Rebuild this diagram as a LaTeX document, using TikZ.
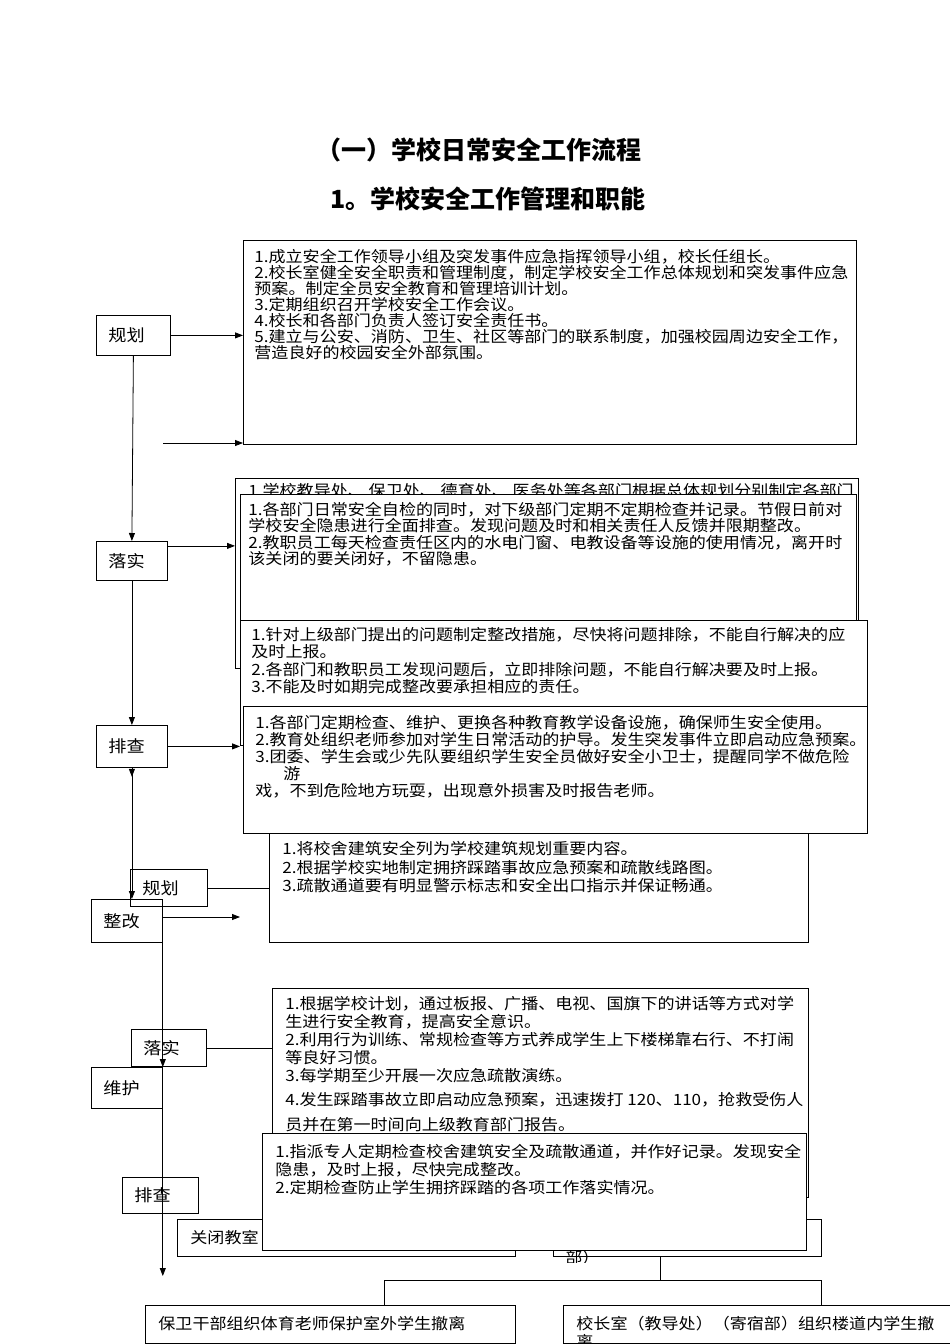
\documentclass[tikz,border=0pt]{standalone}
\usepackage{fontspec}
\newfontfamily\zh[FakeStretch=1.1]{Noto Sans CJK SC}
\newfontfamily\zhbf{Noto Sans CJK SC}
\usetikzlibrary{arrows.meta}

\begin{document}
\begin{tikzpicture}[x = 1pt, y = -1pt, line width = 0.8pt,
  box/.style = {draw, fill = white, anchor = north west, inner sep = 0pt},
  txt/.style = {anchor = north west, inner sep = 0pt, align = left, font = {\zh\fontsize{15.5}{#1}\selectfont}},
  lab/.style = {draw, anchor = north west, inner xsep = 12pt, inner ysep = 0pt, text width = #1, align = left, font = {\zh\fontsize{16.5}{16.5}\selectfont}},
  arr/.style = {-{Triangle[length = 8pt, width = 6pt]}}]
\useasboundingbox (0,0) rectangle (950,1344);

% titles
\node[font = {\zhbf\bfseries\fontsize{25}{25}\selectfont}] at (479,150) (title1) {（一）学校日常安全工作流程};
\node[font = {\zhbf\bfseries\fontsize{25}{25}\selectfont}] at (488,199) (title2) {1。学校安全工作管理和职能};

% detail boxes, back to front
\node[box, minimum width = 613pt, minimum height = 204pt] at (243,240) (pA) {};
\node[txt = 16] at (254,249) (tA) {1.成立安全工作领导小组及突发事件应急指挥领导小组，校长任组长。\\
2.校长室健全安全职责和管理制度，制定学校安全工作总体规划和突发事件应急\\
预案。制定全员安全教育和管理培训计划。\\
3.定期组织召开学校安全工作会议。\\
4.校长和各部门负责人签订安全责任书。\\
5.建立与公安、消防、卫生、社区等部门的联系制度，加强校园周边安全工作，\\
营造良好的校园安全外部氛围。};

\node[box, minimum width = 623pt, minimum height = 190pt] at (235,478) (pB) {};
\node[txt = 16] at (248,483) (tB) {1.学校教导处、 保卫处、 德育处、 医务处等各部门根据总体规划分别制定各部门};

\node[box, minimum width = 616pt, minimum height = 146pt] at (240,494) (pC) {};
\node[txt = 16.4] at (248,502) (tC) {1.各部门日常安全自检的同时，对下级部门定期不定期检查并记录。节假日前对\\
学校安全隐患进行全面排查。发现问题及时和相关责任人反馈并限期整改。\\
2.教职员工每天检查责任区内的水电门窗、电教设备等设施的使用情况，离开时\\
该关闭的要关闭好，不留隐患。};

\node[box, minimum width = 627pt, minimum height = 125pt] at (240,620) (pD) {};
\node[txt = 17.3] at (251,627) (tD) {1.针对上级部门提出的问题制定整改措施，尽快将问题排除，不能自行解决的应\\
及时上报。\\
2.各部门和教职员工发现问题后，立即排除问题，不能自行解决要及时上报。\\
3.不能及时如期完成整改要承担相应的责任。};

\node[box, minimum width = 539pt, minimum height = 122pt] at (269,820) (pF) {};
\node[txt = 18.5] at (282,841) (tF) {1.将校舍建筑安全列为学校建筑规划重要内容。\\
2.根据学校实地制定拥挤踩踏事故应急预案和疏散线路图。\\
3.疏散通道要有明显警示标志和安全出口指示并保证畅通。};

\node[box, minimum width = 624pt, minimum height = 127pt] at (243,706) (pE) {};
\node[txt = 17] at (255,715) (tE) {1.各部门定期检查、维护、更换各种教育教学设备设施，确保师生安全使用。\\
2.教育处组织老师参加对学生日常活动的护导。发生突发事件立即启动应急预案。\\
3.团委、学生会或少先队要组织学生安全员做好安全小卫士，提醒同学不做危险\\
\hspace*{28pt}游\\
戏，不到危险地方玩耍，出现意外损害及时报告老师。};

\node[box, minimum width = 536pt, minimum height = 209pt] at (272,988) (pG) {};
\node[txt = 18] at (285,996) (tG) {1.根据学校计划，通过板报、广播、电视、国旗下的讲话等方式对学\\
生进行安全教育，提高安全意识。\\
2.利用行为训练、常规检查等方式养成学生上下楼梯靠右行、不打闹\\
等良好习惯。\\
3.每学期至少开展一次应急疏散演练。\\[6pt]
4.发生踩踏事故立即启动应急预案，迅速拨打 120、110，抢救受伤人\\[7pt]
员并在第一时间向上级教育部门报告。};

\node[box, minimum width = 338pt, minimum height = 37pt] at (177,1219) (pK) {};
\node[txt = 18] at (190,1230) (tK) {关闭教室};
\node[box, minimum width = 268pt, minimum height = 37pt] at (553,1219) (pL) {};
\begin{scope}
\clip (553,1219) rectangle (821,1262);
\node[txt = 18] at (565,1250) (tL) {部）};
\end{scope}

\node[box, minimum width = 544pt, minimum height = 117pt] at (262,1133) (pH) {};
\node[txt = 18] at (275,1144) (tH) {1.指派专人定期检查校舍建筑安全及疏散通道，并作好记录。发现安全\\
隐患，及时上报，尽快完成整改。\\
2.定期检查防止学生拥挤踩踏的各项工作落实情况。};

\node[box, minimum width = 370pt, minimum height = 38pt] at (145,1305) (pI) {};
\node[txt = 18] at (158,1316) (tI) {保卫干部组织体育老师保护室外学生撤离};
\node[box, minimum width = 390pt, minimum height = 38pt] at (563,1305) (pJ) {};
\node[txt = 18] at (576,1316) (tJ) {校长室（教导处）（寄宿部）组织楼道内学生撤\\
离};

% step labels
\node[lab = 50pt, minimum height = 40pt] at (96,315) (gh1) {规划};
\node[lab = 47pt, minimum height = 39pt] at (96,541) (ls1) {落实};
\node[lab = 47pt, minimum height = 42pt] at (96,725) (pc1) {排查};
\node[lab = 53pt, minimum height = 37pt] at (130,869) (gh2) {规划};
\node[lab = 47pt, minimum height = 43pt] at (91,899) (zg) {整改};
\node[lab = 51pt, minimum height = 37pt] at (131,1029) (ls2) {落实};
\node[lab = 47pt, minimum height = 41pt] at (91,1067) (wh) {维护};
\node[lab = 52pt, minimum height = 36pt] at (122,1177) (pc2) {排查};

% connectors
\draw[arr] (gh1.east) -- (gh1.east -| pA.west);
\coordinate (f1) at (163,443);
\draw[arr] (f1) -- (f1 -| pA.west);
\draw[arr] (gh1.south) -- (ls1.north);
\draw[arr] ([yshift = 15pt]ls1.east) -- ([yshift = 15pt]ls1.east -| pB.west);
\draw[arr] (ls1.south) -- (pc1.north);
\draw[arr] (pc1.east) -- (pc1.east -| pD.west);
\draw[arr] (pc1.south) -- ++(0,9);
\draw[arr] (pc1.south) -- (pc1.south |- zg.north);
\draw (gh2.east) -- (gh2.east -| pF.west);
\coordinate (z1) at (240,917);
\draw[arr] (zg.east |- z1) -- (z1);
\draw[arr] (zg.south east) -- (wh.north east);
\draw (ls2.east) -- (ls2.east -| pG.west);
\coordinate (e1) at (162,1276);
\draw[arr] (wh.south east) -- (wh.south east |- e1);
\coordinate (t0) at (660,1280);
\coordinate (tL) at (384,1280);
\coordinate (tR) at (821,1280);
\draw (t0 |- pL.south) -- (t0);
\draw (tL |- pI.north) -- (tL) -- (tR) -- (tR |- pJ.north);
\end{tikzpicture}
\end{document}
